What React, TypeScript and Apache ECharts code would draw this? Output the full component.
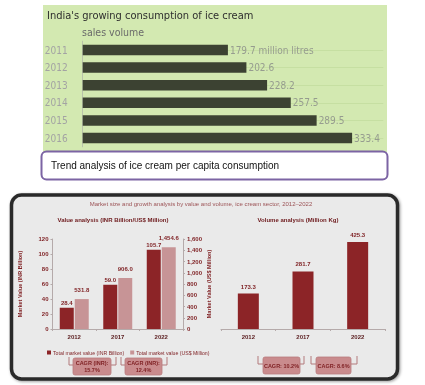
import React, { useEffect, useRef } from 'react';
import * as echarts from 'echarts';

const salesYears = ['2011', '2012', '2013', '2014', '2015', '2016'];
const salesVolume = [179.7, 202.6, 228.2, 257.5, 289.5, 333.4];
const valueYears = ['2012', '2017', '2022'];
const marketValueINR = [28.4, 59.0, 105.7];
const marketValueUSD = [531.8, 906.0, 1454.6];
const volumeYears = ['2012', '2017', '2022'];
const volumeKg = [173.3, 281.7, 425.3];
const valueCagr = ['CAGR (INR):\n15.7%', 'CAGR (INR):\n12.4%'];
const volumeCagr = ['CAGR: 10.2%', 'CAGR: 8.6%'];

const NARROW = "'DejaVu Sans Condensed', 'DejaVu Sans', sans-serif";
const SMALL = "'Liberation Sans', 'DejaVu Sans', sans-serif";
const DARK_RED = '#8c2427';
const LIGHT_RED = '#c79496';
const TEXT_RED = '#7e1f22';

function cagrBox(bl: number, br: number, x: number, w: number, y: number, h: number, text: string) {
  const bc = '#b37a7c';
  return [
    { type: 'polyline', z: 3, shape: { points: [[bl, y - 1], [bl, y + 7], [x, y + 7]] }, style: { stroke: bc, lineWidth: 1, fill: 'none' } },
    { type: 'polyline', z: 3, shape: { points: [[br, y - 1], [br, y + 7], [x + w, y + 7]] }, style: { stroke: bc, lineWidth: 1, fill: 'none' } },
    { type: 'rect', z: 3, shape: { x, y, width: w, height: h, r: 2 }, style: { fill: '#c98b8d', stroke: '#b97b7d', lineWidth: 0.8 } },
    { type: 'text', z: 4, x: x + w / 2, y: y + h / 2, style: { text, fontSize: 5.5, fontWeight: 'bold', fontFamily: SMALL, fill: TEXT_RED, align: 'center', verticalAlign: 'middle', lineHeight: 7 } },
  ];
}

export default function App() {
  const ref = useRef<HTMLDivElement>(null);
  useEffect(() => {
    if (!ref.current) return;
    const chart = echarts.init(ref.current, undefined, { renderer: 'svg' });
    const axisGray = '#b5aaaa';
    const barLabel = { show: true, position: 'top', fontSize: 6, fontWeight: 'bold', color: TEXT_RED, fontFamily: SMALL };
    const option: any = {
      animation: false,
      grid: [
        { left: 82.7, top: 41.2, width: 300.6, height: 105.6 },
        { left: 52.5, top: 239, width: 130.5, height: 90 },
        { left: 221, top: 239, width: 164, height: 90 },
      ],
      legend: {
        data: ['Total market value (INR Billion)', 'Total market value (US$ Million)'],
        left: 42,
        top: 345,
        icon: 'rect',
        itemWidth: 4,
        itemHeight: 4,
        itemGap: 6,
        textStyle: { fontSize: 5.2, color: TEXT_RED, fontFamily: SMALL, padding: [0, 0, 0, -3] },
      },
      xAxis: [
        { gridIndex: 0, type: 'value', min: 0, max: 372, show: false },
        {
          gridIndex: 1, type: 'category', data: valueYears,
          axisLine: { lineStyle: { color: axisGray } },
          axisTick: { show: true, length: 2, lineStyle: { color: axisGray } },
          axisLabel: { fontSize: 6, fontWeight: 'bold', color: '#5a1c1e', fontFamily: SMALL, margin: 5 },
        },
        {
          gridIndex: 2, type: 'category', data: volumeYears,
          axisLine: { lineStyle: { color: axisGray } },
          axisTick: { show: true, length: 2, lineStyle: { color: axisGray } },
          axisLabel: { fontSize: 6, fontWeight: 'bold', color: '#5a1c1e', fontFamily: SMALL, margin: 5 },
        },
      ],
      yAxis: [
        {
          gridIndex: 0, type: 'category', data: salesYears, inverse: true,
          axisLine: { show: true, lineStyle: { color: '#b9c4aa' } },
          axisTick: { show: false },
          axisLabel: { fontFamily: NARROW, fontSize: 10, color: '#a3a3a3', margin: 15 },
          splitLine: { show: false },
        },
        {
          gridIndex: 1, type: 'value', min: 0, max: 120, interval: 20,
          name: 'Market Value (INR Billion)', nameLocation: 'middle', nameGap: 30, nameRotate: 90,
          nameTextStyle: { fontSize: 5.5, color: TEXT_RED, fontFamily: SMALL, fontWeight: 'bold' },
          axisLine: { show: true, lineStyle: { color: axisGray } },
          axisTick: { show: true, length: 2, lineStyle: { color: axisGray } },
          axisLabel: { fontSize: 6, color: TEXT_RED, fontFamily: SMALL, fontWeight: 'bold', margin: 4 },
          splitLine: { show: false },
        },
        {
          gridIndex: 1, type: 'value', min: 0, max: 1600, interval: 200, position: 'right',
          name: 'Market Value (US$ Million)', nameLocation: 'middle', nameGap: 23, nameRotate: 90,
          nameTextStyle: { fontSize: 5.5, color: TEXT_RED, fontFamily: SMALL, fontWeight: 'bold' },
          axisLine: { show: true, lineStyle: { color: axisGray } },
          axisTick: { show: true, length: 2, lineStyle: { color: axisGray } },
          axisLabel: {
            fontSize: 6, color: TEXT_RED, fontFamily: SMALL, fontWeight: 'bold', margin: 4,
            formatter: (v: number) => v.toLocaleString('en-US'),
          },
          splitLine: { show: false },
        },
        { gridIndex: 2, type: 'value', min: 0, max: 440, show: false },
      ],
      series: [
        {
          name: 'sales volume', type: 'bar', xAxisIndex: 0, yAxisIndex: 0, data: salesVolume,
          barWidth: 10.5, itemStyle: { color: '#3c4232' }, z: 2,
          label: {
            show: true, position: 'right', distance: 2, fontFamily: NARROW, fontSize: 10, color: '#969c8f',
            formatter: (p: any) => (p.dataIndex === 0 ? `${p.value} million litres` : `${p.value}`),
          },
          markLine: {
            silent: true, symbol: 'none', z: 1,
            label: { show: false },
            lineStyle: { color: '#c6dfa2', type: 'solid', width: 1 },
            data: salesYears.map((y) => ({ yAxis: y })),
          },
        },
        {
          name: 'Total market value (INR Billion)', type: 'bar', xAxisIndex: 1, yAxisIndex: 1,
          data: marketValueINR, barWidth: 14, barGap: '7%', itemStyle: { color: DARK_RED },
          label: { ...barLabel, distance: 1.5, formatter: (p: any) => Number(p.value).toFixed(1) },
        },
        {
          name: 'Total market value (US$ Million)', type: 'bar', xAxisIndex: 1, yAxisIndex: 2,
          data: marketValueUSD, barWidth: 14, barGap: '7%', itemStyle: { color: LIGHT_RED },
          label: {
            ...barLabel, distance: 6,
            formatter: (p: any) => Number(p.value).toLocaleString('en-US', { minimumFractionDigits: 1, maximumFractionDigits: 1 }),
          },
        },
        {
          name: 'Volume', type: 'bar', xAxisIndex: 2, yAxisIndex: 3, data: volumeKg,
          barWidth: 21, itemStyle: { color: DARK_RED },
          label: { ...barLabel, distance: 4, formatter: (p: any) => Number(p.value).toFixed(1) },
        },
      ],
      graphic: [
        { type: 'rect', z: -5, shape: { x: 43, y: 5, width: 344, height: 147 }, style: { fill: '#d3e9b1' } },
        { type: 'text', z: 5, x: 47, y: 10, style: { text: "India's growing consumption of ice cream", fontFamily: NARROW, fontSize: 11, fill: '#2e2e2e' } },
        { type: 'text', z: 5, x: 82, y: 26, style: { text: 'sales volume', fontFamily: NARROW, fontSize: 10.5, fill: '#6a6a6a' } },
        { type: 'rect', z: 5, shape: { x: 41.5, y: 151.5, width: 346, height: 28, r: 5 }, style: { fill: '#ffffff', stroke: '#7c64a4', lineWidth: 2 } },
        { type: 'text', z: 6, x: 51, y: 165.5, style: { text: 'Trend analysis of ice cream per capita consumption', fontFamily: SMALL, fontSize: 10, fill: '#111111', verticalAlign: 'middle' } },
        { type: 'rect', z: -5, shape: { x: 11.5, y: 195, width: 386, height: 184, r: 10 }, style: { fill: '#eaeaea', stroke: '#2a2a2a', lineWidth: 3.5, shadowBlur: 3, shadowColor: 'rgba(0,0,0,0.4)', shadowOffsetX: 1, shadowOffsetY: 1 } },
        { type: 'text', z: 5, x: 201, y: 204, style: { text: 'Market size and growth analysis by value and volume, ice cream sector, 2012–2022', fontFamily: SMALL, fontSize: 6, fill: '#9c5356', align: 'center', verticalAlign: 'middle' } },
        { type: 'text', z: 5, x: 113, y: 220, style: { text: 'Value analysis (INR Billion/US$ Million)', fontFamily: SMALL, fontSize: 6, fontWeight: 'bold', fill: '#6e1a1d', align: 'center', verticalAlign: 'middle' } },
        { type: 'text', z: 5, x: 298, y: 220, style: { text: 'Volume analysis (Million Kg)', fontFamily: SMALL, fontSize: 6, fontWeight: 'bold', fill: '#6e1a1d', align: 'center', verticalAlign: 'middle' } },
        ...cagrBox(69, 116, 73, 38, 358, 17, valueCagr[0]),
        ...cagrBox(121, 167, 125, 37, 358, 17, valueCagr[1]),
        ...cagrBox(258, 304, 263, 37, 357, 17, volumeCagr[0]),
        ...cagrBox(311, 357, 316, 35, 357, 17, volumeCagr[1]),
      ],
    };
    chart.setOption(option);
    return () => chart.dispose();
  }, []);
  return <div ref={ref} style={{ position: 'fixed', left: 0, top: 0, width: 425, height: 385 }} />;
}
